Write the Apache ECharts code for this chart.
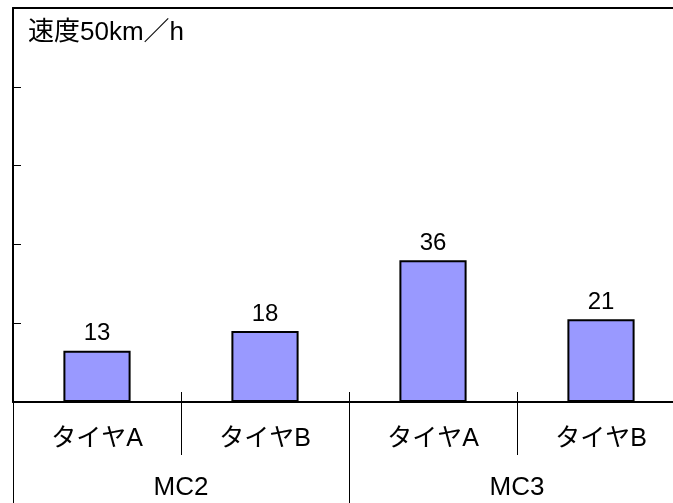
<!DOCTYPE html>
<html>
<head>
<meta charset="utf-8">
<script src="https://cdn.jsdelivr.net/npm/echarts@6/dist/echarts.min.js"></script>
<style>
  html, body { margin: 0; padding: 0; background: #fff; }
  #chart { width: 673px; height: 503px; }
</style>
</head>
<body>
<div id="chart"></div>
<script>
// Braking test at 50 km/h: two tyres per machine
const chartTitle = '速度50km／h';
const groups = ['MC2', 'MC3'];
const tyres = ['タイヤA', 'タイヤB'];
const values = [13, 18, 36, 21];
const yMin = 0;
const yMax = 100;
const yStep = 20;

const FONT = '"Liberation Sans", "Noto Sans CJK JP", sans-serif';

// one category per (group, tyre) pair, keyed uniquely
const categories = [];
groups.forEach(g => tyres.forEach(t => categories.push(g + '|' + t)));

const chart = echarts.init(document.getElementById('chart'), null, { renderer: 'canvas' });

chart.setOption({
  animation: false,
  backgroundColor: '#ffffff',
  title: {
    text: chartTitle,
    left: 23,
    top: 15,
    textStyle: { fontFamily: FONT, fontSize: 26, fontWeight: 'normal', color: '#000' }
  },
  grid: {
    left: 13,
    top: 8,
    width: 672,
    bottom: 101,
    outerBoundsMode: 'none',
    containLabel: false,
    show: false
  },
  xAxis: [
    {
      // tyre row with dividers running down
      type: 'category',
      data: categories,
      position: 'bottom',
      axisLine: { show: true, lineStyle: { color: '#000', width: 2 } },
      axisTick: { show: true, interval: 0, length: 53, lineStyle: { color: '#000', width: 1 } },
      axisLabel: {
        interval: 0,
        margin: 25,
        fontFamily: FONT,
        fontSize: 25,
        color: '#000',
        formatter: v => v.split('|')[1]
      },
      splitLine: { show: false }
    },
    {
      // short divider stubs above the baseline
      type: 'category',
      data: categories,
      position: 'bottom',
      axisLine: { show: false },
      axisTick: { show: true, inside: true, interval: 0, length: 10, lineStyle: { color: '#000', width: 1 } },
      axisLabel: { show: false },
      splitLine: { show: false }
    },
    {
      // machine row
      type: 'category',
      data: groups,
      position: 'bottom',
      axisLine: { show: false },
      axisTick: { show: true, interval: 0, length: 101, lineStyle: { color: '#000', width: 1 } },
      axisLabel: {
        interval: 0,
        margin: 73,
        fontFamily: FONT,
        fontSize: 26,
        color: '#000'
      },
      splitLine: { show: false }
    },
    {
      // top frame edge
      type: 'category',
      data: categories,
      position: 'top',
      axisLine: { show: true, lineStyle: { color: '#000', width: 2 } },
      axisTick: { show: false },
      axisLabel: { show: false },
      splitLine: { show: false }
    }
  ],
  yAxis: {
    type: 'value',
    min: yMin,
    max: yMax,
    interval: yStep,
    axisLine: { show: true, lineStyle: { color: '#000', width: 2 } },
    axisTick: { show: true, inside: true, length: 8, lineStyle: { color: '#000', width: 1 } },
    axisLabel: { show: false },
    splitLine: { show: false }
  },
  series: [
    {
      type: 'bar',
      xAxisIndex: 0,
      data: values,
      barWidth: '40%',
      itemStyle: { color: '#9999FF', borderColor: '#000', borderWidth: 2 },
      label: {
        show: true,
        position: 'top',
        distance: 5,
        fontFamily: FONT,
        fontSize: 24,
        color: '#000'
      }
    }
  ]
});
</script>
</body>
</html>
